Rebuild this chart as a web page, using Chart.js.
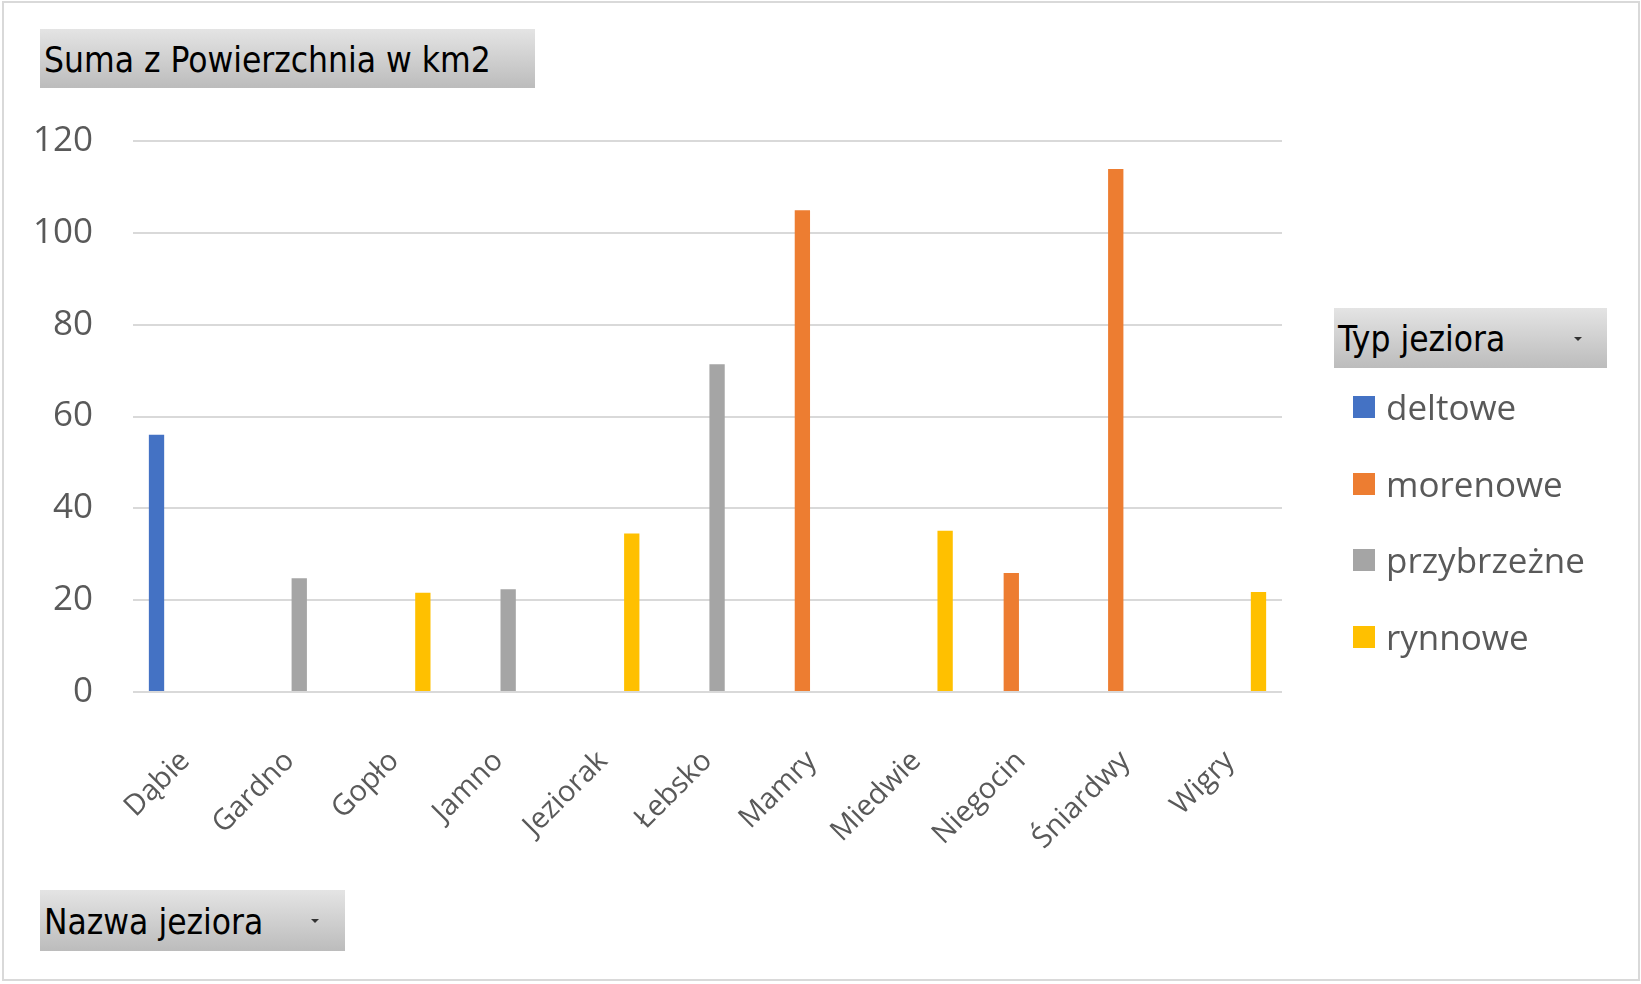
<!DOCTYPE html>
<html>
<head>
<meta charset="utf-8">
<script src="https://cdn.jsdelivr.net/npm/chart.js@4.4.1/dist/chart.umd.min.js"></script>
<style>
  body { margin: 0; background: #fff; }
  #wrap { position: relative; width: 1641px; height: 984px; overflow: hidden; }
  #frame { position: absolute; left: 2px; top: 1px; width: 1634px; height: 976px; border: 2px solid #d9d9d9; }
  canvas { position: absolute; left: 0; top: 0; }
  .btn {
    position: absolute;
    background: linear-gradient(#e4e4e4, #bcbcbc);
    font-family: "DejaVu Sans Condensed", "DejaVu Sans", sans-serif;
    font-size: 35px;
    color: #000;
    box-sizing: border-box;
    padding-left: 4px;
    padding-top: 3px;
    white-space: nowrap;
  }
  .btn .arrow {
    position: absolute;
    width: 0; height: 0;
    border-left: 4px solid transparent;
    border-right: 4px solid transparent;
    border-top: 4px solid #333;
  }
  #legend { position: absolute; left: 1353px; top: 369px; font-family: "Open Sans", sans-serif; font-size: 35px; color: #595959; }
  .item { position: relative; height: 76.7px; }
  .item .sw { position: absolute; left: 0; top: 27px; width: 22px; height: 22px; }
  .item .lb { position: absolute; left: 33px; top: 37px; transform: translateY(-50%); white-space: nowrap; }
</style>
</head>
<body>
<div id="wrap">
  <div id="frame"></div>
  <canvas id="chart" width="1641" height="984"></canvas>
  <div class="btn" style="left:40px;top:29px;width:495px;height:59px;line-height:56px;">Suma z Powierzchnia w km2</div>
  <div class="btn" style="left:1334px;top:308px;width:273px;height:60px;line-height:57px;">Typ jeziora<span class="arrow" style="left:240px;top:29px;"></span></div>
  <div class="btn" style="left:40px;top:890px;width:305px;height:61px;line-height:58px;">Nazwa jeziora<span class="arrow" style="left:271px;top:29px;"></span></div>
  <div id="legend"></div>
</div>
<script>
const categories = ['Dąbie', 'Gardno', 'Gopło', 'Jamno', 'Jeziorak', 'Łebsko', 'Mamry', 'Miedwie', 'Niegocin', 'Śniardwy', 'Wigry'];

const seriesNames = ['deltowe', 'morenowe', 'przybrzeżne', 'rynnowe'];
const seriesColors = ['#4472C4', '#ED7D31', '#A5A5A5', '#FFC000'];

const deltowe     = [56, null, null, null, null, null, null, null, null, null, null];
const morenowe    = [null, null, null, null, null, null, 104.9, null, 25.9, 113.9, null];
const przybrzezne = [null, 24.8, null, 22.4, null, 71.4, null, null, null, null, null];
const rynnowe     = [null, null, 21.6, null, 34.5, null, null, 35.1, null, null, 21.8];

const yTicks = [0, 20, 40, 60, 80, 100, 120];

const seriesValues = [deltowe, morenowe, przybrzezne, rynnowe];

// legend on the right, built from the same series lists
const legendEl = document.getElementById('legend');
seriesNames.forEach((name, i) => {
  const row = document.createElement('div');
  row.className = 'item';
  row.innerHTML = `<span class="sw" style="background:${seriesColors[i]}"></span><span class="lb">${name}</span>`;
  legendEl.appendChild(row);
});

const ctx = document.getElementById('chart').getContext('2d');

new Chart(ctx, {
  type: 'bar',
  data: {
    labels: categories,
    datasets: seriesNames.map((name, i) => ({
      label: name,
      data: seriesValues[i],
      backgroundColor: seriesColors[i],
      borderWidth: 0,
      categoryPercentage: 0.733,
      barPercentage: 0.8
    }))
  },
  options: {
    responsive: false,
    animation: false,
    layout: {
      padding: { left: 0, top: 141, right: 359, bottom: 0 }
    },
    plugins: {
      legend: { display: false },
      tooltip: { enabled: false }
    },
    scales: {
      x: {
        grid: { display: false },
        border: { display: false },
        ticks: {
          color: '#595959',
          font: { family: 'Open Sans', size: 29 },
          minRotation: 45,
          maxRotation: 45,
          padding: 44,
          autoSkip: false
        },
        afterFit: (scale) => { scale.height = 292; }
      },
      y: {
        min: yTicks[0],
        max: yTicks[yTicks.length - 1],
        afterBuildTicks: (scale) => { scale.ticks = yTicks.map(v => ({ value: v })); },
        grid: { color: '#d9d9d9', lineWidth: 2, drawTicks: false },
        border: { display: false },
        ticks: {
          color: '#595959',
          font: { family: 'Open Sans', size: 35 },
          padding: 40
        },
        afterFit: (scale) => { scale.width = 133; }
      }
    }
  }
});
</script>
</body>
</html>
